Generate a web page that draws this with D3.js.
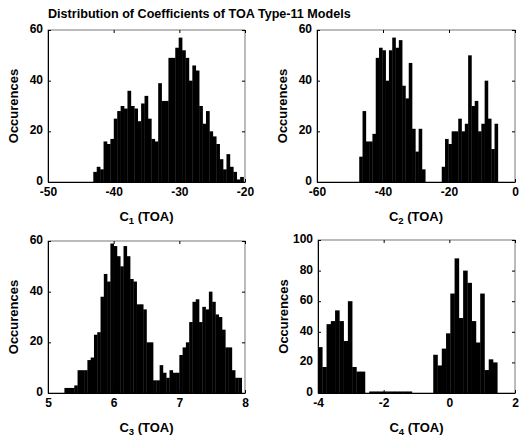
<!DOCTYPE html>
<html>
<head>
<meta charset="utf-8">
<script src="https://cdn.jsdelivr.net/npm/d3@7"></script>
<style>
  body { margin: 0; background: #fff; }
  svg text { font-family: "Liberation Sans", Arial, sans-serif; font-weight: bold; fill: #000; }
</style>
</head>
<body>
<div id="chart_container"></div>
<script>
// HISTOGRAM DATA: first bin edge, bin width, counts per bin

let c1BinStart = -43.1;
let c1BinWidth = 0.52;
let c1Counts = [4, 6, 5, 16, 15, 17, 25, 28, 30, 29, 36, 30, 29, 24, 31, 34, 25, 17, 16, 39,
  32, 32, 49, 49, 53, 57, 52, 49, 40, 46, 44, 30, 23, 28, 20, 18, 15, 9, 5, 11, 6, 4, 1, 2];

let c2BinStart = -47.2;
let c2BinWidth = 1;
let c2Counts = [10, 28, 16, 16, 19, 49, 53, 52, 40, 52, 57, 53, 56, 38, 33, 47, 21, 12, 21, 5,
  0, 0, 0, 0, 0,
  6, 17, 15, 20, 20, 25, 20, 23, 50, 30, 32, 20, 23, 40, 25, 13, 23];

let c3BinStart = 5.25;
let c3BinWidth = 0.05;
let c3Counts = [2, 2, 2, 3, 9, 9, 9, 13, 14, 23, 24, 38, 47, 44, 59, 58, 54, 50, 58, 54,
  45, 44, 35, 35, 33, 20, 20, 5, 5, 11, 8, 6, 9, 8, 8, 15, 18, 20, 28, 36,
  37, 28, 34, 33, 40, 36, 31, 30, 25, 18, 18, 9, 6, 6];

let c4BinStart = -4;
let c4BinWidth = 0.13;
let c4Counts = [30, 17, 45, 47, 54, 47, 34, 60, 17, 14, 14,
  0, 1, 1, 1, 1, 1, 1, 1, 1, 1, 1, 0, 0, 0, 0, 0,
  25, 18, 29, 39, 65, 88, 49, 80, 72, 47, 33, 65, 15, 22, 20];

// axis ranges and tick labels
let c1XDomain = [-50, -20], c1XTicks = [-50, -40, -30, -20];
let c2XDomain = [-60, 0],   c2XTicks = [-60, -40, -20, 0];
let c3XDomain = [5, 8],     c3XTicks = [5, 6, 7, 8];
let c4XDomain = [-4, 2],    c4XTicks = [-4, -2, 0, 2];
let yTicks60 = [0, 20, 40, 60];
let yTicks100 = [0, 20, 40, 60, 80, 100];

let titleText = "Distribution of Coefficients of TOA Type-11 Models";
let yLabelText = "Occurences";

let svgWidth = 519;
let svgHeight = 437;

let svg = d3.select("#chart_container")
  .append("svg")
  .attr("width", svgWidth)
  .attr("height", svgHeight);

svg.append("text")
  .attr("x", 48)
  .attr("y", 18)
  .style("font-size", "12.6px")
  .text(titleText);

// plain hyphen minus like the original, no decimals
let tickFmt = d => String(d);

function drawHistogram({counts, binStart, binWidth, xDomain, xTicks, yMax, yTicks, box, sub}) {
  let xScale = d3.scaleLinear()
    .domain(xDomain)
    .range([box.left, box.right]);

  let yScale = d3.scaleLinear()
    .domain([0, yMax])
    .range([box.bottom, box.top]);

  let bins = counts.map((c, i) => ({
    x0: binStart + i * binWidth,
    x1: binStart + (i + 1) * binWidth,
    count: c
  })).filter(d => d.count > 0);

  let g = svg.append("g");

  // frame
  g.append("rect")
    .attr("x", box.left)
    .attr("y", box.top)
    .attr("width", box.right - box.left)
    .attr("height", box.bottom - box.top)
    .attr("fill", "none")
    .attr("stroke", "#555")
    .attr("stroke-width", 0.8);

  g.selectAll(".bar")
    .data(bins)
    .enter()
    .append("rect")
    .attr("class", "bar")
    .attr("x", d => xScale(d.x0))
    .attr("y", d => yScale(d.count))
    .attr("width", d => xScale(d.x1) - xScale(d.x0) + 0.3)
    .attr("height", d => yScale(0) - yScale(d.count))
    .attr("fill", "#000");

  let xAxis = d3.axisBottom(xScale)
    .tickValues(xTicks)
    .tickFormat(tickFmt)
    .tickSizeInner(-3)
    .tickSizeOuter(0)
    .tickPadding(5);

  let yAxis = d3.axisLeft(yScale)
    .tickValues(yTicks)
    .tickFormat(tickFmt)
    .tickSizeInner(-3)
    .tickSizeOuter(0)
    .tickPadding(5);

  g.append("g")
    .attr("transform", "translate(0," + box.bottom + ")")
    .call(xAxis)
    .call(a => a.selectAll("text").style("font-size", "12px").style("font-family", null))
    .call(a => a.select(".domain").attr("stroke-width", 1.2));

  g.append("g")
    .attr("transform", "translate(" + box.left + ",0)")
    .call(yAxis)
    .call(a => a.selectAll("text").style("font-size", "12px").style("font-family", null).attr("dy", "0.2em"))
    .call(a => a.select(".domain").attr("stroke-width", 1));

  // inward ticks on top and right
  g.append("g")
    .attr("transform", "translate(0," + box.top + ")")
    .call(d3.axisTop(xScale).tickValues(xTicks).tickSizeInner(-3).tickSizeOuter(0).tickFormat(""))
    .call(a => a.select(".domain").remove());

  g.append("g")
    .attr("transform", "translate(" + box.right + ",0)")
    .call(d3.axisRight(yScale).tickValues(yTicks).tickSizeInner(-3).tickSizeOuter(0).tickFormat(""))
    .call(a => a.select(".domain").remove());

  // y label
  g.append("text")
    .attr("transform", "translate(" + (box.left - 30) + "," + ((box.top + box.bottom) / 2) + ") rotate(-90)")
    .attr("text-anchor", "middle")
    .style("font-size", "13px")
    .text(yLabelText);

  // x label with subscript
  let xLabel = g.append("text")
    .attr("x", (box.left + box.right) / 2)
    .attr("y", box.bottom + 39)
    .attr("text-anchor", "middle")
    .style("font-size", "13px");
  xLabel.append("tspan").text("C");
  xLabel.append("tspan").attr("dy", 3).style("font-size", "9.5px").text(sub);
  xLabel.append("tspan").attr("dy", -3).text(" (TOA)");
}

drawHistogram({counts: c1Counts, binStart: c1BinStart, binWidth: c1BinWidth,
  xDomain: c1XDomain, xTicks: c1XTicks, yMax: 60, yTicks: yTicks60,
  box: {left: 48, right: 245, top: 30, bottom: 182}, sub: "1"});

drawHistogram({counts: c2Counts, binStart: c2BinStart, binWidth: c2BinWidth,
  xDomain: c2XDomain, xTicks: c2XTicks, yMax: 60, yTicks: yTicks60,
  box: {left: 317, right: 515, top: 30, bottom: 182}, sub: "2"});

drawHistogram({counts: c3Counts, binStart: c3BinStart, binWidth: c3BinWidth,
  xDomain: c3XDomain, xTicks: c3XTicks, yMax: 60, yTicks: yTicks60,
  box: {left: 48, right: 245, top: 241, bottom: 393}, sub: "3"});

drawHistogram({counts: c4Counts, binStart: c4BinStart, binWidth: c4BinWidth,
  xDomain: c4XDomain, xTicks: c4XTicks, yMax: 100, yTicks: yTicks100,
  box: {left: 318, right: 515, top: 240, bottom: 393}, sub: "4"});
</script>
</body>
</html>
